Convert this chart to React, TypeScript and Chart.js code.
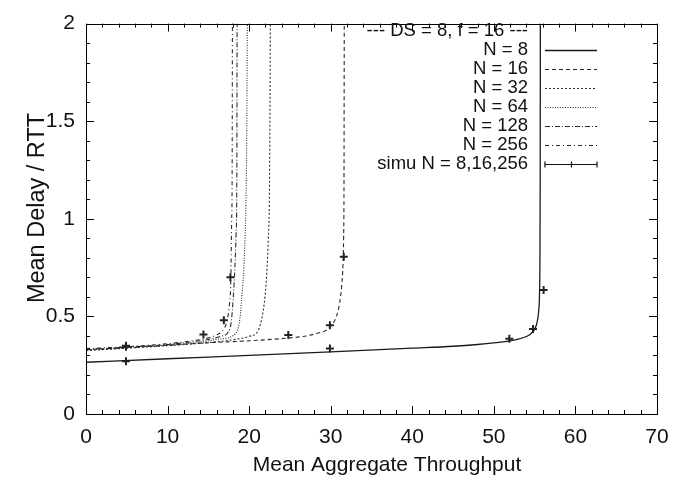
import React, { useEffect, useRef } from "react";
import { Chart, registerables } from "chart.js";
Chart.register(...registerables);

// ---- data ----
const n8X = [0, 10, 20, 30, 40, 45, 48, 50, 52, 53, 54, 54.5, 55, 55.3, 55.5, 55.6, 55.65, 55.68, 55.7];
const n8Y = [0.265, 0.283, 0.3, 0.318, 0.337, 0.347, 0.356, 0.364, 0.375, 0.383, 0.397, 0.41, 0.435, 0.47, 0.53, 0.62, 0.8, 1.2, 2.0];

const n16X = [0, 5, 10, 15, 20, 25, 27, 28.5, 29.5, 30.2, 30.7, 31.1, 31.35, 31.5, 31.58, 31.63, 31.66];
const n16Y = [0.33, 0.34, 0.352, 0.365, 0.375, 0.39, 0.4, 0.415, 0.43, 0.46, 0.5, 0.57, 0.66, 0.76, 0.9, 1.2, 2.0];

const n32X = [0, 5, 10, 15, 18, 20, 21, 21.5, 21.94, 22.2, 22.35, 22.47, 22.55, 22.6];
const n32Y = [0.325, 0.337, 0.35, 0.366, 0.38, 0.398, 0.42, 0.48, 0.6, 0.75, 0.9, 1.07, 1.5, 2.0];

const n64X = [0, 5, 10, 14, 16.5, 18.5, 18.9, 19.1, 19.35, 19.5, 19.6, 19.7, 19.78];
const n64Y = [0.328, 0.34, 0.353, 0.368, 0.385, 0.42, 0.5, 0.6, 0.75, 0.9, 1.07, 1.4, 2.0];

const n128X = [0, 5, 10, 13, 15, 16.5, 17.45, 17.8, 18.06, 18.25, 18.4, 18.47, 18.5, 18.52];
const n128Y = [0.33, 0.342, 0.356, 0.37, 0.382, 0.398, 0.42, 0.47, 0.6, 0.75, 0.92, 1.07, 1.4, 2.0];

const n256X = [0, 5, 10, 13, 15, 16, 16.8, 17.3, 17.6, 17.75, 17.86, 17.9, 17.93, 17.95];
const n256Y = [0.335, 0.345, 0.36, 0.375, 0.39, 0.405, 0.43, 0.48, 0.57, 0.68, 1.0, 1.1, 1.5, 2.0];

const simuX = [4.9, 29.9, 51.9, 54.8, 56.1, 4.9, 24.8, 29.9, 31.6, 4.9, 14.4, 16.9, 17.7];
const simuY = [0.27, 0.335, 0.385, 0.435, 0.635, 0.345, 0.405, 0.455, 0.805, 0.35, 0.407, 0.48, 0.7];

const legendTitle = "--- DS = 8, f = 16 ---";
const curveLabels = ["N = 8", "N = 16", "N = 32", "N = 64", "N = 128", "N = 256"];
const simuLabel = "simu N = 8,16,256";
const xTitle = "Mean Aggregate Throughput";
const yTitle = "Mean Delay / RTT";

const FONT = "'Liberation Sans', Arial, Helvetica, sans-serif";

const zip = (xs: number[], ys: number[]) => xs.map((x, i) => ({ x, y: ys[i] }));

const curveStyles = [
  { dash: [] as number[], color: "#1a1a1a", width: 1.3 },
  { dash: [4, 3], color: "#2a2a2a", width: 1.1 },
  { dash: [2, 2], color: "#2a2a2a", width: 1.1 },
  { dash: [1, 1.5], color: "#2a2a2a", width: 1.1 },
  { dash: [5, 2, 1, 2], color: "#2a2a2a", width: 1.1 },
  { dash: [4, 3, 1, 3], color: "#2a2a2a", width: 1.1 },
];

const framePlugin = {
  id: "frame",
  afterDraw(chart: any) {
    const { ctx, chartArea, scales } = chart;
    const { left, right, top, bottom } = chartArea;
    const x = scales.x;
    const y = scales.y;
    ctx.save();
    ctx.strokeStyle = "#000";
    ctx.lineWidth = 1;
    ctx.strokeRect(Math.round(left) + 0.5, Math.round(top) + 0.5, Math.round(right - left), Math.round(bottom - top));
    ctx.beginPath();
    for (let v = 0; v <= 70 + 1e-9; v += 2) {
      const px = Math.round(x.getPixelForValue(v)) + 0.5;
      const len = Math.abs(v % 10) < 1e-6 ? 8 : 4;
      ctx.moveTo(px, bottom);
      ctx.lineTo(px, bottom - len);
      ctx.moveTo(px, top);
      ctx.lineTo(px, top + len);
    }
    for (let i = 0; i <= 20; i++) {
      const v = i / 10;
      const py = Math.round(y.getPixelForValue(v)) + 0.5;
      const len = i % 5 === 0 ? 8 : 4;
      ctx.moveTo(left, py);
      ctx.lineTo(left + len, py);
      ctx.moveTo(right, py);
      ctx.lineTo(right - len, py);
    }
    ctx.stroke();

    // axis titles
    ctx.fillStyle = "#111";
    ctx.textAlign = "center";
    ctx.textBaseline = "middle";
    ctx.font = `21px ${FONT}`;
    ctx.fillText(xTitle, 387, 465);
    ctx.save();
    ctx.translate(38, 208);
    ctx.rotate(-Math.PI / 2);
    ctx.font = `23.5px ${FONT}`;
    ctx.fillText(yTitle, 0, 0);
    ctx.restore();

    // key
    const textRight = 528;
    const sx0 = 545;
    const sx1 = 597;
    const rowY = (i: number) => 31 + i * 19;
    ctx.font = `18.5px ${FONT}`;
    ctx.textAlign = "right";
    ctx.textBaseline = "middle";
    ctx.fillText(legendTitle, textRight, rowY(0));
    curveLabels.forEach((lab, i) => {
      const yy = rowY(i + 1);
      ctx.fillText(lab, textRight, yy);
      const st = curveStyles[i];
      ctx.save();
      ctx.strokeStyle = st.color;
      ctx.lineWidth = st.width;
      ctx.setLineDash(st.dash);
      ctx.beginPath();
      ctx.moveTo(sx0, Math.round(yy) + 0.5);
      ctx.lineTo(sx1, Math.round(yy) + 0.5);
      ctx.stroke();
      ctx.restore();
    });
    const ys = Math.round(rowY(7)) + 0.5;
    ctx.fillText(simuLabel, textRight, rowY(7));
    ctx.beginPath();
    ctx.strokeStyle = "#111";
    ctx.lineWidth = 1.2;
    ctx.moveTo(sx0, ys);
    ctx.lineTo(sx1, ys);
    ctx.moveTo(sx0, ys - 3);
    ctx.lineTo(sx0, ys + 3);
    ctx.moveTo(sx1, ys - 3);
    ctx.lineTo(sx1, ys + 3);
    const mid = Math.round((sx0 + sx1) / 2) + 0.5;
    ctx.moveTo(mid, ys - 3);
    ctx.lineTo(mid, ys + 3);
    ctx.stroke();
    ctx.restore();
  },
};

export default function App() {
  const ref = useRef<HTMLCanvasElement | null>(null);
  useEffect(() => {
    document.body.style.margin = "0";
    const curves = [
      [n8X, n8Y],
      [n16X, n16Y],
      [n32X, n32Y],
      [n64X, n64Y],
      [n128X, n128Y],
      [n256X, n256Y],
    ];
    const datasets: any[] = curves.map(([xs, ys], i) => ({
      label: curveLabels[i],
      data: zip(xs, ys),
      showLine: true,
      borderColor: curveStyles[i].color,
      borderWidth: curveStyles[i].width,
      borderDash: curveStyles[i].dash,
      pointRadius: 0,
      cubicInterpolationMode: "monotone",
      fill: false,
    }));
    datasets.push({
      label: simuLabel,
      data: zip(simuX, simuY),
      showLine: false,
      pointStyle: "cross",
      pointRadius: 4,
      borderWidth: 2,
      borderColor: "#222",
      backgroundColor: "#222",
    });
    const chart = new Chart(ref.current as HTMLCanvasElement, {
      type: "scatter",
      data: { datasets },
      options: {
        animation: false,
        responsive: true,
        maintainAspectRatio: false,
        layout: { padding: { top: 15, right: 27, left: 0, bottom: 0 } },
        plugins: { legend: { display: false }, tooltip: { enabled: false } },
        scales: {
          x: {
            type: "linear",
            min: 0,
            max: 70,
            grid: { display: false, drawTicks: false },
            border: { display: false },
            ticks: { stepSize: 10, padding: 11, color: "#111", font: { family: FONT, size: 21 } },
            title: { display: false, text: xTitle },
            afterFit: (s: any) => { s.height = 64; },
          },
          y: {
            type: "linear",
            min: 0,
            max: 2,
            grid: { display: false, drawTicks: false },
            border: { display: false },
            ticks: {
              stepSize: 0.5,
              padding: 11,
              color: "#111",
              font: { family: FONT, size: 21 },
              callback: (v: any) => String(Number(v)),
            },
            title: { display: false, text: yTitle },
            afterFit: (s: any) => { s.width = 86; },
          },
        },
      },
      plugins: [framePlugin],
    } as any);
    return () => chart.destroy();
  }, []);
  return (
    <div style={{ width: 684, height: 478, position: "relative", background: "#fff" }}>
      <canvas ref={ref} />
    </div>
  );
}
